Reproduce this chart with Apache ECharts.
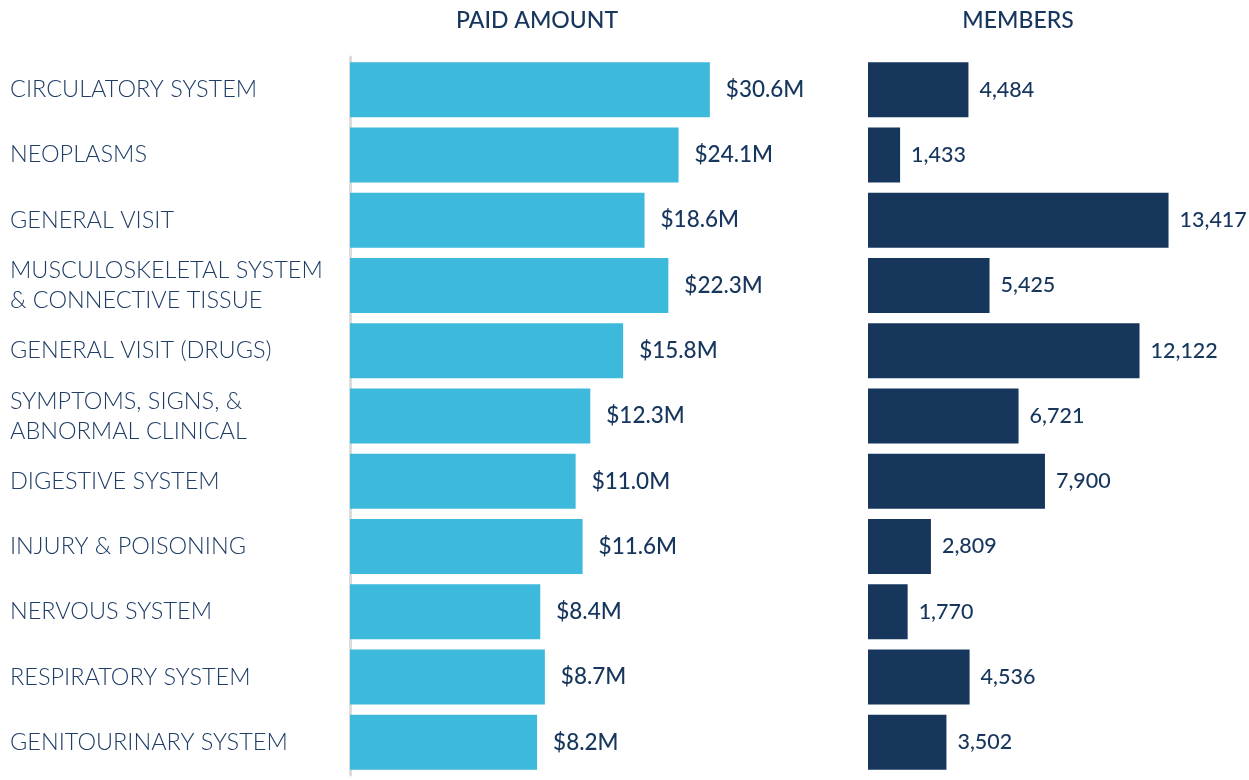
<!DOCTYPE html>
<html>
<head>
<meta charset="utf-8">
<script src="https://cdn.jsdelivr.net/npm/echarts@6/dist/echarts.min.js"></script>
<style>
  html, body { margin: 0; padding: 0; background: #fff; }
  #chart { width: 1249px; height: 780px; }
</style>
</head>
<body>
<div id="chart"></div>
<script>
  // data
  let categories = [
    'CIRCULATORY SYSTEM',
    'NEOPLASMS',
    'GENERAL VISIT',
    'MUSCULOSKELETAL SYSTEM\n& CONNECTIVE TISSUE',
    'GENERAL VISIT (DRUGS)',
    'SYMPTOMS, SIGNS, &\nABNORMAL CLINICAL',
    'DIGESTIVE SYSTEM',
    'INJURY & POISONING',
    'NERVOUS SYSTEM',
    'RESPIRATORY SYSTEM',
    'GENITOURINARY SYSTEM'
  ];
  let paidAmount = [30.6, 24.1, 18.6, 22.3, 15.8, 12.3, 11.0, 11.6, 8.4, 8.7, 8.2]; // $M
  let members = [4484, 1433, 13417, 5425, 12122, 6721, 7900, 2809, 1770, 4536, 3502];

  let navy = '#17365d';
  let fontName = 'Lato, "Open Sans", sans-serif';

  let myChart = echarts.init(document.getElementById('chart'));
  let option = {
    animation: false,
    backgroundColor: '#fff',
    textStyle: { fontFamily: fontName },
    graphic: [
      { type: 'text', x: 537, y: 21, style: { text: 'PAID AMOUNT', fill: navy, font: '500 23px ' + fontName, textAlign: 'center', textVerticalAlign: 'middle' } },
      { type: 'text', x: 1018, y: 21, style: { text: 'MEMBERS', fill: navy, font: '500 23px ' + fontName, textAlign: 'center', textVerticalAlign: 'middle' } }
    ],
    grid: [
      { left: 350, top: 57, width: 395, height: 718 },
      { left: 868, top: 57, width: 336, height: 718 }
    ],
    xAxis: [
      // bar lengths in the source follow a compressed scale, so a log axis is used
      { gridIndex: 0, type: 'log', min: 1.97, max: 40, show: false },
      { gridIndex: 1, type: 'value', min: 0, max: 15000, show: false }
    ],
    yAxis: [
      {
        gridIndex: 0,
        type: 'category',
        inverse: true,
        data: categories,
        axisTick: { show: false },
        axisLine: { show: true, lineStyle: { color: '#dcdcdc', width: 3 } },
        axisLabel: {
          align: 'left',
          margin: 340,
          color: '#1f3d66',
          fontSize: 23.5,
          fontWeight: 300,
          lineHeight: 30,
          fontFamily: fontName
        }
      },
      {
        gridIndex: 1,
        type: 'category',
        inverse: true,
        data: categories,
        show: false
      }
    ],
    series: [
      {
        name: 'Paid Amount',
        type: 'bar',
        xAxisIndex: 0,
        yAxisIndex: 0,
        data: paidAmount,
        barWidth: 55,
        clip: true,
        itemStyle: { color: '#3cb9db' },
        label: {
          show: true,
          position: 'right',
          distance: 16,
          color: navy,
          fontSize: 22.5,
          fontWeight: 500,
          fontFamily: fontName,
          formatter: p => '$' + p.value.toFixed(1) + 'M'
        }
      },
      {
        name: 'Members',
        type: 'bar',
        xAxisIndex: 1,
        yAxisIndex: 1,
        data: members,
        barWidth: 55,
        itemStyle: { color: '#16365c' },
        label: {
          show: true,
          position: 'right',
          distance: 11,
          color: navy,
          fontSize: 21.5,
          fontWeight: 500,
          fontFamily: fontName,
          formatter: p => p.value.toLocaleString('en-US')
        }
      }
    ]
  };
  myChart.setOption(option);
</script>
</body>
</html>
